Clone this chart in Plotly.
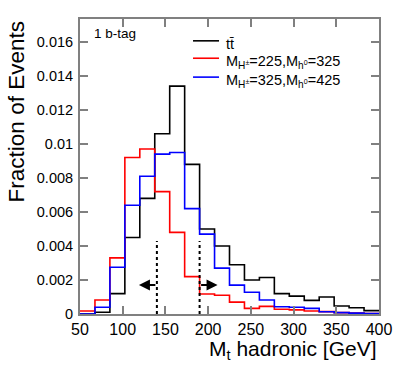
import plotly.graph_objects as go

# 20 bins of 17.5 GeV between 50 and 400
bin_edges = [50 + 17.5 * i for i in range(21)]

ttbar = [0.0000, 0.0001, 0.0012, 0.0045, 0.0068, 0.0106, 0.0134, 0.0088, 0.0050, 0.0040,
         0.0029, 0.0020, 0.00215, 0.0012, 0.00105, 0.0008, 0.0010, 0.00047, 0.00037, 0.0002]
sig_225 = [0.00018, 0.00082, 0.0033, 0.0092, 0.0097, 0.0072, 0.0048, 0.0022, 0.00118, 0.0011,
           0.0007, 0.00033, 0.00045, 0.00028, 0.00024, 0.00018, 0.00014, 0.00008, 0.00005, 0.00002]
sig_325 = [0.0000, 0.0004, 0.00275, 0.0064, 0.0081, 0.0094, 0.0095, 0.0062, 0.0047, 0.0027,
           0.0017, 0.00128, 0.00082, 0.00043, 0.0004, 0.00033, 0.00013, 0.00008, 0.00005, 0.00003]

series_names = ["tt\u0304",
                "M<sub>H<sup>±</sup></sub>=225,M<sub>h<sup>0</sup></sub>=325",
                "M<sub>H<sup>±</sup></sub>=325,M<sub>h<sup>0</sup></sub>=425"]
series_colors = ["black", "#ff0000", "#0000ff"]

# mass window cuts and arrows
cut_values = [140, 190]
cut_height = 0.0043
arrow_y = 0.0017
arrow_len = 21

x_ticks = [50, 100, 150, 200, 250, 300, 350, 400]
y_ticks = [0, 0.002, 0.004, 0.006, 0.008, 0.01, 0.012, 0.014, 0.016]
y_ticktext = ["0", "0.002", "0.004", "0.006", "0.008", "0.01", "0.012", "0.014", "0.016"]

FONT = "Liberation Sans, Arial, sans-serif"

fig = go.Figure()
for vals, name, color in zip([ttbar, sig_225, sig_325], series_names, series_colors):
    fig.add_trace(go.Scatter(
        x=bin_edges, y=vals + [vals[-1]], mode="lines", name=name, showlegend=False,
        line=dict(color=color, width=1.6, shape="hv"),
    ))

for c in cut_values:
    fig.add_shape(type="line", x0=c, x1=c, y0=0, y1=cut_height, xref="x", yref="y",
                  line=dict(color="black", width=2, dash="dot"))

fig.add_annotation(x=cut_values[0] - arrow_len, y=arrow_y, ax=cut_values[0], ay=arrow_y,
                   xref="x", yref="y", axref="x", ayref="y", text="", showarrow=True,
                   arrowhead=2, arrowsize=1.1, arrowwidth=2, arrowcolor="black")
fig.add_annotation(x=cut_values[1] + arrow_len, y=arrow_y, ax=cut_values[1], ay=arrow_y,
                   xref="x", yref="y", axref="x", ayref="y", text="", showarrow=True,
                   arrowhead=2, arrowsize=1.1, arrowwidth=2, arrowcolor="black")

# hand-placed legend (ROOT style, tight rows)
leg_rows = [0.926, 0.867, 0.803]
for name, color, ly in zip(series_names, series_colors, leg_rows):
    fig.add_shape(type="line", xref="paper", yref="paper", x0=0.378, x1=0.465, y0=ly, y1=ly,
                  line=dict(color=color, width=1.6))
    fig.add_annotation(x=0.483, y=ly - 0.012, xref="paper", yref="paper", xanchor="left",
                       yanchor="middle", text=name, showarrow=False,
                       font=dict(size=14.5, color="black"))

fig.add_annotation(x=0.04, y=0.952, xref="paper", yref="paper", xanchor="left", yanchor="middle",
                   text="1 b-tag", showarrow=False, font=dict(size=13.5, color="black"))
fig.add_annotation(x=1.0, y=-0.122, xref="paper", yref="paper", xanchor="right", yanchor="middle",
                   text="M<sub>t</sub> hadronic [GeV]", showarrow=False,
                   font=dict(size=21, color="black"))
fig.add_annotation(x=-0.214, y=0.997, xref="paper", yref="paper", xanchor="center", yanchor="top",
                   text="Fraction of Events", textangle=-90, showarrow=False,
                   font=dict(size=22.5, color="black"))

axis_common = dict(showline=True, linecolor="#808080", linewidth=2, mirror="ticks",
                   ticks="inside", ticklen=8, tickcolor="#808080", tickwidth=2,
                   showgrid=False, zeroline=False, automargin=False)

fig.update_xaxes(range=[50, 400], tickvals=x_ticks, tickfont=dict(size=16, color="black"),
                 **axis_common)
fig.update_yaxes(range=[0, 0.01735], tickvals=y_ticks, ticktext=y_ticktext,
                 tickfont=dict(size=14.5, color="black"), ticklabelstandoff=2, **axis_common)

fig.update_layout(
    width=399, height=375,
    margin=dict(l=80, r=20, t=19, b=61),
    paper_bgcolor="white", plot_bgcolor="white",
    font=dict(family=FONT, color="black"),
    showlegend=False,
)

# drop the default 8px page margin so the figure sits at the window corner
fig.write_html("out.html", config={"displayModeBar": False},
               post_script="document.body.style.margin='0';")
